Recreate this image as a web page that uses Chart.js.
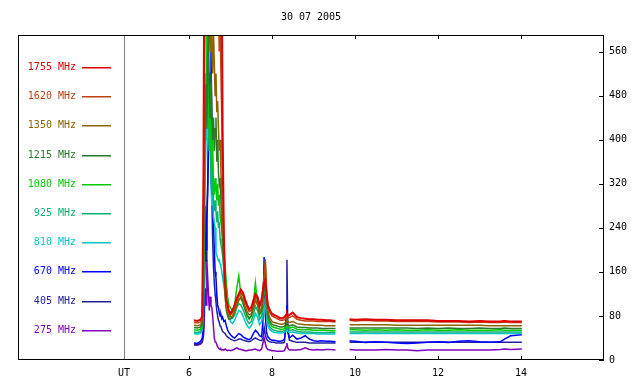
<!DOCTYPE html>
<html>
<head>
<meta charset="utf-8">
<script src="https://cdn.jsdelivr.net/npm/chart.js@4.4.0/dist/chart.umd.min.js"></script>
<style>
  html, body { margin: 0; padding: 0; background: #fff; }
  #wrap { width: 640px; height: 384px; }
</style>
</head>
<body>
<div id="wrap"><canvas id="chart"></canvas></div>
<script>
"use strict";

// 1: data
const TITLE = '30 07 2005';
const UT_POS = 4.434;             // where the "UT" label / divider sits
const hourTicks = [6, 8, 10, 12, 14];
const fluxTicks = [0, 80, 160, 240, 320, 400, 480, 560];

// time of every sample, in hours UT (9.7 is the data gap)
const hours = [
  6.12, 6.2, 6.28, 6.32, 6.35, 6.37, 6.39, 6.41, 6.43, 6.45,
  6.47, 6.49, 6.51, 6.53, 6.55, 6.57, 6.59, 6.61, 6.63, 6.65,
  6.67, 6.69, 6.71, 6.73, 6.75, 6.77, 6.79, 6.81, 6.84, 6.87,
  6.9, 6.93, 6.96, 7.0, 7.05, 7.1, 7.15, 7.2, 7.25, 7.3,
  7.35, 7.4, 7.45, 7.5, 7.55, 7.6, 7.65, 7.7, 7.75, 7.78,
  7.81, 7.84, 7.87, 7.9, 7.95, 8.0, 8.05, 8.1, 8.15, 8.2,
  8.25, 8.3, 8.34, 8.36, 8.38, 8.42, 8.5, 8.6, 8.7, 8.8,
  8.9, 9.0, 9.1, 9.2, 9.3, 9.4, 9.53, 9.7, 9.87, 10.0,
  10.25, 10.5, 10.75, 11.0, 11.25, 11.5, 11.75, 12.0, 12.25, 12.5,
  12.75, 13.0, 13.25, 13.5, 13.6, 13.75, 14.02
];

const freqLabels = ['1755 MHz', '1620 MHz', '1350 MHz', '1215 MHz', '1080 MHz',
                    '925 MHz', '810 MHz', '670 MHz', '405 MHz', '275 MHz'];
const freqColors = ['#e00000', '#c04010', '#8b6400', '#2a7a2a', '#00cc00',
                    '#10b070', '#00c8c8', '#0000ff', '#2020a0', '#8000c0'];

const f1755 = [
  72, 71, 73, 80, 340, 800, 820, 800, 820, 800,
  820, 800, 820, 800, 820, 800, 820, 800, 820, 800,
  820, 800, 820, 800, 820, 780, 700, 420, 230, 140,
  110, 100, 90, 85, 90, 100, 112, 120, 128, 122,
  110, 100, 92, 95, 108, 120, 115, 100, 110, 125,
  140, 145, 120, 100, 90, 84, 82, 80, 78, 76,
  76, 78, 82, 84, 80, 82, 86, 78, 76, 75,
  74, 74, 73, 73, 72, 72, 71, null, 74, 73,
  74, 73, 73, 72, 72, 72, 72, 71, 71, 71,
  70, 71, 70, 70, 71, 70, 70
];
const f1620 = [
  68, 67, 69, 76, 260, 650, 760, 780, 760, 780,
  760, 780, 760, 780, 760, 780, 760, 740, 720, 700,
  680, 660, 640, 560, 620, 520, 440, 320, 210, 135,
  105, 94, 86, 82, 86, 96, 106, 115, 122, 117,
  105, 96, 88, 90, 102, 115, 110, 95, 105, 130,
  150, 175, 125, 98, 86, 80, 78, 76, 74, 72,
  72, 73, 77, 80, 76, 77, 80, 74, 72, 71,
  71, 71, 70, 70, 70, 70, 69, null, 72, 71,
  72, 71, 71, 70, 70, 70, 70, 69, 69, 69,
  68, 69, 68, 68, 69, 68, 68
];
const f1350 = [
  63, 62, 64, 70, 200, 450, 650, 700, 650, 620,
  700, 600, 560, 620, 580, 520, 600, 540, 480, 520,
  450, 470, 420, 380, 400, 340, 300, 250, 180, 120,
  95, 86, 80, 78, 80, 88, 98, 108, 115, 110,
  98, 88, 82, 84, 95, 108, 102, 88, 95, 120,
  150, 183, 115, 88, 76, 70, 68, 67, 66, 65,
  65, 66, 70, 74, 70, 68, 70, 66, 65, 64,
  64, 63, 63, 63, 62, 62, 62, null, 64, 64,
  64, 64, 64, 63, 63, 63, 63, 63, 63, 63,
  63, 63, 62, 62, 62, 62, 62
];
const f1215 = [
  59, 58, 60, 66, 150, 380, 440, 500, 420, 540,
  600, 480, 440, 520, 460, 400, 440, 380, 420, 440,
  360, 400, 340, 320, 330, 290, 250, 210, 160, 115,
  90, 80, 74, 74, 78, 88, 100, 110, 112, 104,
  92, 82, 76, 80, 92, 110, 100, 84, 90, 112,
  130, 140, 105, 82, 70, 65, 63, 62, 61, 60,
  60, 61, 64, 68, 64, 62, 64, 60, 59, 59,
  58, 58, 58, 57, 57, 57, 57, null, 58, 58,
  58, 58, 58, 58, 58, 57, 58, 57, 58, 57,
  57, 58, 57, 57, 58, 57, 57
];
const f1080 = [
  55, 54, 56, 62, 120, 300, 420, 520, 640, 600,
  480, 420, 500, 380, 340, 400, 320, 300, 330, 310,
  290, 320, 280, 300, 260, 250, 240, 220, 200, 170,
  140, 115, 100, 95, 88, 100, 130, 153, 118, 105,
  92, 80, 74, 80, 100, 140, 105, 82, 88, 105,
  120, 128, 100, 78, 66, 61, 59, 58, 57, 56,
  56, 57, 60, 64, 60, 58, 60, 56, 55, 55,
  55, 54, 54, 54, 54, 53, 53, null, 55, 55,
  54, 55, 54, 55, 54, 54, 55, 54, 54, 55,
  54, 54, 54, 55, 54, 54, 54
];
const f925 = [
  51, 50, 52, 58, 100, 260, 380, 460, 560, 520,
  420, 380, 430, 330, 300, 340, 290, 270, 290, 270,
  250, 270, 240, 250, 220, 210, 200, 190, 170, 140,
  115, 95, 85, 80, 76, 82, 95, 102, 100, 92,
  82, 72, 66, 70, 82, 98, 90, 74, 80, 96,
  108, 112, 90, 70, 60, 56, 54, 53, 52, 52,
  52, 53, 56, 60, 56, 54, 55, 52, 51, 51,
  51, 50, 50, 50, 50, 50, 50, null, 51, 51,
  51, 51, 51, 51, 51, 51, 51, 51, 51, 51,
  51, 51, 51, 51, 51, 51, 51
];
const f810 = [
  48, 47, 49, 54, 90, 220, 330, 400, 470, 520,
  440, 380, 420, 320, 280, 300, 260, 250, 240, 195,
  190, 185, 180, 182, 175, 170, 160, 150, 135, 120,
  105, 92, 80, 70, 66, 72, 82, 90, 88, 80,
  70, 62, 58, 62, 72, 85, 78, 64, 70, 85,
  96, 100, 80, 62, 55, 52, 50, 50, 49, 49,
  49, 50, 53, 56, 52, 50, 51, 49, 48, 48,
  48, 48, 47, 47, 47, 47, 47, null, 48, 48,
  48, 48, 48, 48, 48, 48, 48, 48, 48, 48,
  48, 48, 48, 48, 48, 48, 48
];
const f670 = [
  31, 30, 34, 40, 60, 150, 280, 200, 250, 300,
  380, 450, 520, 576, 420, 300, 250, 200, 160, 150,
  120, 100, 95, 85, 80, 82, 75, 78, 70, 72,
  62, 55, 50, 46, 42, 40, 44, 48, 46, 42,
  40, 38, 37, 40, 48, 54, 50, 44, 42, 70,
  187, 80, 50, 42, 38, 36, 36, 35, 34, 34,
  35, 38, 60, 100, 50, 40, 45, 38, 40, 44,
  38, 35, 34, 35, 34, 34, 33, null, 35, 34,
  32, 33, 32, 31, 30, 31, 32, 33, 32, 34,
  35, 33, 32, 33, 38, 44, 46
];
const f405 = [
  27, 28, 30, 34, 50, 120, 200, 180, 260, 320,
  420, 510, 480, 400, 300, 220, 170, 140, 120, 105,
  90, 80, 72, 68, 62, 60, 56, 52, 50, 48,
  44, 42, 40, 38, 36, 35, 36, 38, 38, 36,
  35, 34, 33, 35, 38, 40, 38, 36, 35, 40,
  60, 45, 38, 35, 33, 32, 32, 31, 31, 31,
  31, 32, 80, 182, 60, 36, 34, 32, 32, 32,
  31, 31, 31, 31, 31, 31, 31, null, 32, 32,
  32, 32, 32, 32, 32, 32, 32, 32, 32, 32,
  32, 32, 32, 32, 32, 32, 32
];
const f275 = [
  28, 27, 29, 32, 45, 80, 130, 100, 182, 150,
  120, 90, 115, 100, 95, 80, 60, 40, 33, 32,
  28, 24, 22, 20, 19, 20, 18, 19, 18, 20,
  18, 17, 18, 17, 18, 20, 22, 20, 19, 18,
  17, 17, 18, 18, 19, 20, 18, 17, 20, 30,
  40, 30, 22, 19, 18, 17, 17, 16, 16, 16,
  16, 17, 24, 31, 22, 18, 18, 18, 19, 22,
  19, 18, 19, 18, 19, 19, 18, null, 19, 18,
  18, 18, 19, 18, 18, 17, 18, 18, 18, 18,
  18, 18, 18, 19, 20, 19, 20
];

const fluxSeries = [f1755, f1620, f1350, f1215, f1080, f925, f810, f670, f405, f275];

// 2: prepare datasets for chart.js
function prepareDatasets() {
  return fluxSeries.map((values, i) => ({
    label: freqLabels[i],
    data: values.map((v, k) => ({ x: hours[k], y: v })),
    borderColor: freqColors[i],
    borderWidth: i === 0 ? 2 : 1.5,
    pointRadius: 0,
    tension: 0,
    spanGaps: false
  }));
}

const MONO = { family: '"DejaVu Sans Mono", monospace', size: 10 };

// 3: frame, inward ticks, divider, title and the left-hand legend
const framePlugin = {
  id: 'framePlugin',
  afterDraw(chart) {
    const ctx = chart.ctx;
    const a = chart.chartArea;
    const x = chart.scales.x;
    const y = chart.scales.y;
    const line = (x1, y1, x2, y2) => {
      ctx.beginPath(); ctx.moveTo(x1, y1); ctx.lineTo(x2, y2); ctx.stroke();
    };
    ctx.save();
    ctx.lineWidth = 1;

    // divider between legend and data
    const ux = Math.round(x.getPixelForValue(UT_POS)) + 0.5;
    ctx.strokeStyle = '#808080';
    line(ux, a.top, ux, a.bottom);

    ctx.strokeStyle = '#000';
    ctx.strokeRect(a.left + 0.5, a.top + 0.5, a.right - a.left - 1, a.bottom - a.top - 1);
    for (const h of hourTicks) {
      const px = Math.round(x.getPixelForValue(h)) + 0.5;
      line(px, a.top, px, a.top + 4);
      line(px, a.bottom - 4, px, a.bottom);
    }
    for (const v of fluxTicks) {
      const py = Math.round(y.getPixelForValue(v)) + 0.5;
      line(a.right - 5, py, a.right, py);
    }

    ctx.font = '10px ' + MONO.family;
    ctx.fillStyle = '#000';
    ctx.textAlign = 'center';
    ctx.textBaseline = 'middle';
    ctx.fillText(TITLE, (a.left + a.right) / 2, 17);

    // legend: label + a short sample of the line colour
    ctx.textAlign = 'right';
    chart.data.datasets.forEach((ds, i) => {
      const ly = Math.round(67 + i * 29.2);
      ctx.fillStyle = ds.borderColor;
      ctx.fillText(ds.label, 76, ly + 0.5);
      ctx.fillRect(82, ly, 29, 1.5);
    });
    ctx.restore();
  }
};

function appendChart() {
  const chartContainer = document.getElementById('chart');
  new Chart(chartContainer, {
    type: 'line',
    data: { datasets: prepareDatasets() },
    options: {
      responsive: true,
      maintainAspectRatio: false,
      animation: false,
      layout: { padding: { left: 18, top: 35, right: 0, bottom: 0 } },
      plugins: {
        legend: { display: false },
        title: { display: false },
        tooltip: { enabled: false }
      },
      scales: {
        x: {
          type: 'linear',
          position: 'bottom',
          min: 1.88,
          max: 16,
          grid: { display: false, drawTicks: false },
          border: { display: false },
          afterBuildTicks: s => { s.ticks = [UT_POS].concat(hourTicks).map(v => ({ value: v })); },
          afterFit: s => { s.height = 24; },
          ticks: {
            autoSkip: false,
            maxRotation: 0,
            padding: 7,
            color: '#000',
            font: MONO,
            callback: v => (v === UT_POS ? 'UT' : String(v))
          }
        },
        y: {
          type: 'linear',
          position: 'right',
          min: 0,
          max: 590,
          grid: { display: false, drawTicks: false },
          border: { display: false },
          afterBuildTicks: s => { s.ticks = fluxTicks.map(v => ({ value: v })); },
          afterFit: s => { s.width = 36; },
          ticks: { padding: 5, color: '#000', font: MONO }
        }
      }
    },
    plugins: [framePlugin]
  });
}

appendChart();
</script>
</body>
</html>
